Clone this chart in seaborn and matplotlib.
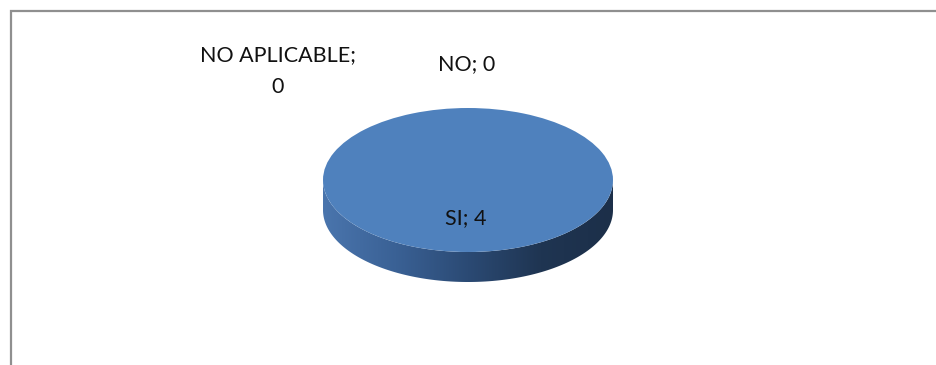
import numpy as np
import matplotlib
matplotlib.use("Agg")
import matplotlib.pyplot as plt
from matplotlib.patches import Polygon, Rectangle
from matplotlib.colors import LinearSegmentedColormap
import seaborn as sns

# Survey answers
categories = ["SI", "NO", "NO APLICABLE"]
values = [4, 0, 0]

sns.set_theme(style="white")
plt.rcParams["font.family"] = ["Lato", "DejaVu Sans"]

W, H = 936, 365
fig = plt.figure(figsize=(W / 100, H / 100), dpi=100)
fig.patch.set_facecolor("white")

# chart area border (runs off the right and bottom edges)
fig.patches.append(Rectangle((10.5 / W, -0.2), 1.2, 1 - 10.5 / H + 0.2,
                             transform=fig.transFigure, fill=False,
                             edgecolor="#8f8f8f", linewidth=1.6))

# pie top face: ellipse centred at (468, 180) px, radii 145 x 72, wall 30 px deep
cx, cy, rx, ry, wall_px = 468, 180, 145, 72, 30
depth = wall_px / ry
ax = fig.add_axes([(cx - rx) / W, 1 - (cy + ry + wall_px) / H,
                   2 * rx / W, (2 * ry + wall_px) / H])
top_colors = sns.color_palette(["#4f81bd", "#c0504d", "#9bbb59"])
ax.pie(values, colors=top_colors, startangle=90, counterclock=False,
       radius=1, wedgeprops=dict(linewidth=0, zorder=2))
ax.set_aspect("auto")
ax.axis("off")

# side wall of the disc with a light-to-dark gradient
t = np.linspace(np.pi, 2 * np.pi, 300)
upper = np.column_stack([np.cos(t), np.sin(t)])
lower = np.column_stack([np.cos(t[::-1]), np.sin(t[::-1]) - depth])
wall = Polygon(np.vstack([upper, lower]), closed=True, facecolor="none",
               edgecolor="none")
ax.add_patch(wall)
side_cmap = LinearSegmentedColormap.from_list(
    "side", ["#4a75ad", "#3a6195", "#2b4a74", "#1f3552", "#1c2f49"])
grad = np.linspace(0, 1, 256).reshape(1, -1)
im = ax.imshow(grad, cmap=side_cmap, extent=(-1, 1, -1 - depth, 0),
               aspect="auto", zorder=1)
im.set_clip_path(wall)
ax.set_xlim(-1, 1)
ax.set_ylim(-1 - depth, 1)

# data labels
label_pos = {"SI": (466, 218), "NO": (467, 64), "NO APLICABLE": (278, 71)}
for cat, val in zip(categories, values):
    x, y = label_pos[cat]
    text = f"{cat};\n{val}" if cat == "NO APLICABLE" else f"{cat}; {val}"
    fig.text(x / W, 1 - y / H, text, ha="center", va="center",
             fontsize=15.5, color="#111111", linespacing=1.75)

fig.savefig("out.png", dpi=100, facecolor="white")
